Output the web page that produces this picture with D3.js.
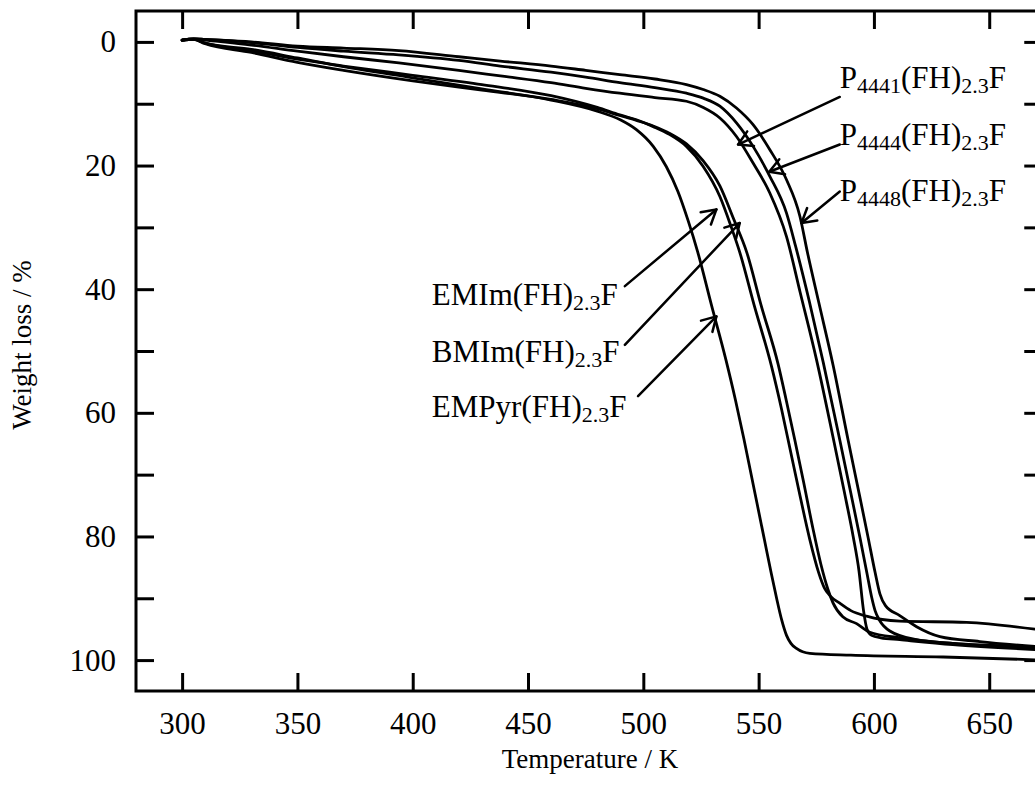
<!DOCTYPE html>
<html>
<head>
<meta charset="utf-8">
<script src="https://cdn.jsdelivr.net/npm/d3@7"></script>
<style>
  html, body { margin: 0; padding: 0; background: #fff; }
  svg { display: block; }
  text { font-family: "Liberation Serif", "Times New Roman", Times, serif; fill: #000; }
</style>
</head>
<body>
<svg id="chart" width="1035" height="787"></svg>
<script>
// ---------------- data (temperature K, weight loss %) ----------------
const xTicks = [300, 350, 400, 450, 500, 550, 600, 650];
const yTicks = [0, 10, 20, 30, 40, 50, 60, 70, 80, 90, 100];
const yLabels = [0, 20, 40, 60, 80, 100];

const P4441 = [[300,-0.3],[305,-0.5],[310,-0.3],[330,0.5],[350,1.5],[370,2.4],[394,3.4],[420,4.6],[438,5.5],[460,6.6],[475,7.5],[489.8,8.3],[505,9.0],[518.7,9.6],[526,10.6],[533.2,12.3],[540.4,15.3],[547.6,19.6],[554.8,24.4],[562.1,31.5],[568,40.5],[575.1,51.4],[582.3,64.0],[587,72.5],[591,80.0],[593.5,85.5],[595.5,92.0],[597,95.0],[599,96.0],[603,96.4],[611.2,96.7],[634.2,97.5],[669.8,98.3]];
const P4444 = [[300,-0.3],[305,-0.5],[310,-0.4],[330,0.1],[350,0.9],[370,1.5],[394,2.1],[420,3.0],[438,3.9],[460,4.9],[475,5.7],[489.8,6.6],[505,7.4],[518.7,8.3],[526,9.1],[533.2,10.4],[540.4,13.1],[547.6,16.9],[554.8,21.7],[562.1,27.7],[566,33.0],[572,42.0],[578,51.8],[585.2,64.4],[590,73.0],[594,80.3],[597,86.0],[599,89.8],[600.5,92.0],[602.5,93.6],[606.9,95.3],[618.5,96.7],[634.2,97.3],[669.8,97.8]];
const P4448 = [[300,-0.3],[305,-0.5],[310,-0.4],[330,0.0],[350,0.7],[370,1.0],[394,1.4],[420,2.4],[438,3.1],[460,3.9],[475,4.6],[489.8,5.3],[505,6.0],[518.7,6.9],[526,7.7],[533.2,8.8],[540.4,10.7],[547.6,13.4],[554.8,17.4],[562.1,22.3],[567.9,28.2],[571.2,34.1],[576,42.0],[582.3,52.3],[588.8,64.4],[594,73.8],[597.5,80.2],[600.5,85.8],[602.6,89.3],[605,91.2],[611.2,92.8],[618.5,94.6],[628.6,96.2],[645.9,97.0],[669.8,97.8]];
const EMIm  = [[300,-0.3],[305,-0.4],[310,0.2],[330,1.4],[350,2.8],[370,3.9],[400,5.4],[430,6.9],[460,8.7],[480,10.6],[489.8,11.8],[497,12.6],[504.3,13.7],[511.5,15.0],[518.7,16.9],[525.9,20.1],[533.2,25.0],[538,29.8],[541.8,34.0],[548,42.5],[555.6,52.5],[560,59.5],[564,66.5],[568,73.5],[572.2,80.5],[576,85.8],[578.5,88.3],[581,89.6],[585.2,90.8],[590,92.0],[596.8,92.9],[611.2,93.7],[640.2,93.9],[669.8,95.0]];
const BMIm  = [[300,-0.3],[305,-0.4],[310,0.3],[330,1.7],[350,3.3],[370,4.6],[400,6.3],[430,7.8],[460,9.3],[480,10.8],[489.8,11.9],[497,12.7],[504.3,13.6],[511.5,14.8],[518.7,16.5],[525.9,19.2],[533.2,23.3],[539,28.5],[545,34.2],[551,42.5],[558.5,52.2],[562,58.0],[565.7,64.4],[569.5,71.2],[573.6,78.8],[577,84.5],[580,88.5],[582.2,90.7],[586.5,93.0],[592.5,94.1],[598.2,95.5],[611.2,96.4],[634.2,97.3],[669.8,98.0]];
const EMPyr = [[300,-0.3],[305,-0.4],[310,0.2],[330,1.2],[350,2.6],[370,4.0],[400,5.8],[430,7.6],[460,9.4],[480,11.2],[490,12.6],[497,14.2],[504.3,16.9],[510,20.2],[515,24.2],[519.5,29.0],[523.6,34.0],[529.5,42.5],[535.8,51.4],[540,58.0],[543.6,64.2],[546.5,69.5],[549.5,75.0],[552.5,80.5],[555.5,86.0],[557.8,90.0],[560,93.5],[562.1,96.0],[564,97.3],[566.4,98.1],[572.2,98.9],[590,99.2],[630,99.5],[669.8,99.95]];

const seriesList = [P4441, P4444, P4448, EMIm, BMIm, EMPyr];

// annotations
const annoHead   = ["P", "P", "P", "EMIm", "BMIm", "EMPyr"];
const annoSub    = ["4441", "4444", "4448", "", "", ""];
const annoText   = [[585.2, 7.4], [585.2, 16.6], [585.2, 25.7], [408.3, 42.5], [408.3, 51.7], [408.3, 60.6]];
const arrowStart = [[585.2, 8.9], [585.2, 16.6], [585.2, 24.2], [492.0, 39.5], [492.0, 49.0], [497.7, 57.3]];
const arrowTip   = [[541.1, 16.6], [554.6, 21.0], [568.6, 29.3], [531.7, 27.1], [541.8, 29.3], [531.7, 44.4]];

(function () {
  const svg = d3.select("#chart");
  const mLeft = 136, mTop = 11, mBottom = 691;
  const x = d3.scaleLinear().domain([280, 673]).range([mLeft, mLeft + 393 * 2.306]);
  const y = d3.scaleLinear().domain([-5, 105]).range([mTop, mBottom]);
  const mRight = x.range()[1];
  const FS = 31, SUB = 22;

  svg.append("defs").append("clipPath").attr("id", "clip")
    .append("rect").attr("x", mLeft).attr("y", mTop).attr("width", mRight - mLeft).attr("height", mBottom - mTop);

  const line = d3.line().x(d => x(d[0])).y(d => y(d[1])).curve(d3.curveMonotoneX);
  svg.append("g").attr("clip-path", "url(#clip)")
    .selectAll("path").data(seriesList).join("path")
    .attr("d", line).attr("fill", "none").attr("stroke", "#000")
    .attr("stroke-width", 2.8).attr("stroke-linejoin", "round").attr("stroke-linecap", "round");

  function styleAxis(g) {
    g.select(".domain").remove();
    g.selectAll(".tick line").attr("stroke", "#000").attr("stroke-width", 3);
    g.selectAll("text").attr("font-size", FS).attr("font-family", '"Liberation Serif", "Times New Roman", serif').attr("fill", "#000");
  }
  svg.append("g").attr("transform", `translate(0,${mBottom})`)
    .call(d3.axisBottom(x).tickValues(xTicks).tickSizeInner(-18).tickSizeOuter(0).tickPadding(21).tickFormat(d3.format("d")))
    .call(styleAxis);
  svg.append("g").attr("transform", `translate(0,${mTop})`)
    .call(d3.axisTop(x).tickValues(xTicks).tickSizeInner(-18).tickSizeOuter(0).tickFormat(""))
    .call(styleAxis);
  svg.append("g").attr("transform", `translate(${mLeft},0)`)
    .call(d3.axisLeft(y).tickValues(yTicks).tickSizeInner(-18).tickSizeOuter(0).tickPadding(20)
      .tickFormat(d => yLabels.includes(d) ? d : ""))
    .call(styleAxis);
  svg.append("g").attr("transform", `translate(${mRight},0)`)
    .call(d3.axisRight(y).tickValues(yTicks).tickSizeInner(-18).tickSizeOuter(0).tickFormat(""))
    .call(styleAxis);

  svg.append("rect").attr("x", mLeft).attr("y", mTop).attr("width", mRight - mLeft).attr("height", mBottom - mTop)
    .attr("fill", "none").attr("stroke", "#000").attr("stroke-width", 3);

  svg.append("text").attr("x", 590).attr("y", 768).attr("text-anchor", "middle")
    .attr("font-size", 27).text("Temperature / K");
  svg.append("text").attr("transform", `translate(31,345) rotate(-90)`).attr("text-anchor", "middle")
    .attr("font-size", 27).text("Weight loss / %");

  annoHead.forEach((h, i) => {
    const t = svg.append("text").attr("x", x(annoText[i][0])).attr("y", y(annoText[i][1])).attr("font-size", FS);
    t.append("tspan").text(h);
    if (annoSub[i]) t.append("tspan").attr("font-size", SUB).attr("dy", 5).text(annoSub[i]);
    t.append("tspan").attr("dy", annoSub[i] ? -5 : 0).text("(FH)");
    t.append("tspan").attr("font-size", SUB).attr("dy", 5).text("2.3");
    t.append("tspan").attr("dy", -5).text("F");

    const x0 = x(arrowStart[i][0]), y0 = y(arrowStart[i][1]);
    const x1 = x(arrowTip[i][0]), y1 = y(arrowTip[i][1]);
    const ang = Math.atan2(y1 - y0, x1 - x0);
    const L = 16, a = Math.PI / 6;
    const g = svg.append("g").attr("stroke", "#000").attr("stroke-width", 2.5).attr("fill", "none")
      .attr("stroke-linecap", "round").attr("stroke-linejoin", "round");
    g.append("line").attr("x1", x0).attr("y1", y0).attr("x2", x1).attr("y2", y1);
    g.append("path").attr("d",
      `M${x1 - L * Math.cos(ang - a)},${y1 - L * Math.sin(ang - a)}L${x1},${y1}L${x1 - L * Math.cos(ang + a)},${y1 - L * Math.sin(ang + a)}`);
  });
})();
</script>
</body>
</html>
